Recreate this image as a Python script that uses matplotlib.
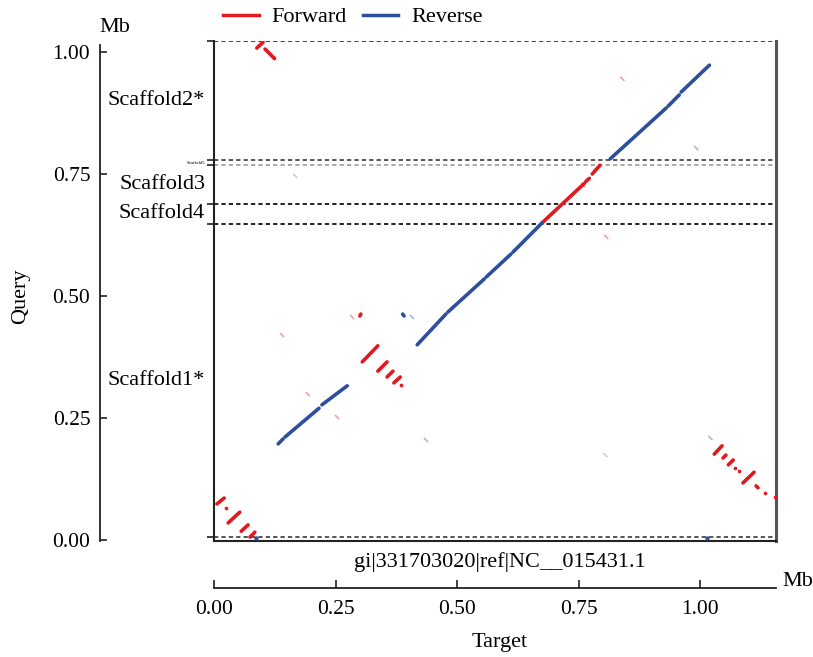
import matplotlib
matplotlib.use('Agg')
import matplotlib.pyplot as plt
import matplotlib.transforms as mtransforms
from matplotlib.lines import Line2D

plt.rcParams['font.family'] = ['Liberation Serif', 'DejaVu Serif']

RED = '#e2191f'
BLUE = '#2c4f9e'

# ---------------- data ----------------
target_name = 'gi|331703020|ref|NC__015431.1'
x_ticks = [0.0, 0.25, 0.5, 0.75, 1.0]
x_ticklabels = ['0.00', '0.25', '0.50', '0.75', '1.00']
y_ticks = [0.0, 0.25, 0.5, 0.75, 1.0]
y_ticklabels = ['0.00', '0.25', '0.50', '0.75', '1.00']
x_limits = (0.0, 1.156)
y_limits = (-0.002, 1.0225)

scaffold_bounds = [0.006, 0.648, 0.689, 0.768, 0.779, 1.0225]
scaffold_names = ['Scaffold1*', 'Scaffold4', 'Scaffold3', 'Scaffold5', 'Scaffold2*']

# forward (red) alignment segments: x0, y0, x1, y1 (Mb)
fwd_x0 = [0.088, 0.105, 0.006, 0.029, 0.056, 0.074, 0.305, 0.337, 0.356, 0.370, 0.300,
          0.675, 0.765, 0.778, 1.029, 1.047, 1.058, 1.088, 1.115]
fwd_y0 = [1.008, 1.006, 0.074, 0.035, 0.018, 0.006, 0.365, 0.346, 0.334, 0.322, 0.459,
          0.650, 0.735, 0.750, 0.176, 0.168, 0.154, 0.117, 0.111]
fwd_x1 = [0.101, 0.123, 0.021, 0.053, 0.070, 0.084, 0.337, 0.356, 0.368, 0.383, 0.302,
          0.762, 0.772, 0.794, 1.045, 1.053, 1.068, 1.111, 1.119]
fwd_y1 = [1.020, 0.988, 0.086, 0.057, 0.031, 0.016, 0.398, 0.365, 0.346, 0.334, 0.463,
          0.731, 0.741, 0.768, 0.193, 0.174, 0.164, 0.139, 0.107]
# forward dots
fwd_dot_x = [0.123, 0.024, 0.385, 1.072, 1.080, 1.134, 1.154]
fwd_dot_y = [0.988, 0.065, 0.318, 0.148, 0.141, 0.096, 0.088]

# reverse (blue) alignment segments
rev_x0 = [0.132, 0.146, 0.222, 0.418, 0.481, 0.560, 0.615, 0.815, 0.934, 0.961, 0.388]
rev_y0 = [0.197, 0.211, 0.277, 0.400, 0.467, 0.539, 0.590, 0.781, 0.889, 0.918, 0.463]
rev_x1 = [0.142, 0.216, 0.274, 0.477, 0.556, 0.611, 0.675, 0.930, 0.957, 1.019, 0.391]
rev_y1 = [0.207, 0.270, 0.316, 0.463, 0.535, 0.586, 0.650, 0.885, 0.912, 0.973, 0.459]
rev_dot_x = [0.086, 1.014]
rev_dot_y = [0.004, 0.004]

# faint (low identity) hits
faint_x = [0.140, 0.193, 0.253, 0.284, 0.407, 0.436, 0.807, 0.759, 0.840, 0.992, 0.167, 0.805, 1.021]
faint_y = [0.420, 0.299, 0.252, 0.457, 0.457, 0.205, 0.621, 0.727, 0.945, 0.803, 0.746, 0.174, 0.209]
faint_kind = ['r', 'r', 'r', 'r', 'b', 'b', 'r', 'r', 'r', 'b', 'g', 'g', 'b']

# ---------------- figure ----------------
fig = plt.figure(figsize=(8.13, 6.57), dpi=100)
W, H = 813, 657
ax = fig.add_axes([214 / W, 1 - 541 / H, 562 / W, 500 / H])
ax.set_xlim(*x_limits)
ax.set_ylim(*y_limits)

# scaffold boundary lines
bound_colors = ['#555555', '#222222', '#222222', '#aaaaaa', '#555555', '#444444']
for b, c in zip(scaffold_bounds, bound_colors):
    ax.axhline(b, color=c, lw=1.4, linestyle=(0, (2.2, 1.6)), zorder=1)

# alignments
for x0, y0, x1, y1 in zip(fwd_x0, fwd_y0, fwd_x1, fwd_y1):
    ax.plot([x0, x1], [y0, y1], color=RED, lw=2.6, solid_capstyle='round', zorder=3)
ax.scatter(fwd_dot_x, fwd_dot_y, s=7, color=RED, zorder=3, linewidths=0)
for x0, y0, x1, y1 in zip(rev_x0, rev_y0, rev_x1, rev_y1):
    ax.plot([x0, x1], [y0, y1], color=BLUE, lw=2.6, solid_capstyle='round', zorder=3)
ax.scatter(rev_dot_x, rev_dot_y, s=10, color=BLUE, zorder=3, linewidths=0)
kind_col = {'r': '#f4a0a3', 'b': '#a9b6dc', 'g': '#d0d0d0'}
for fx, fy, k in zip(faint_x, faint_y, faint_kind):
    ax.plot([fx - 0.003, fx + 0.003], [fy + 0.003, fy - 0.003], color=kind_col[k], lw=1.2, zorder=2)

# frame
for side in ['left', 'bottom']:
    ax.spines[side].set_color('#222222')
    ax.spines[side].set_linewidth(1.5)
ax.spines['right'].set_color('#555555')
ax.spines['right'].set_linewidth(2.2)
ax.spines['top'].set_visible(False)

ax.set_xticks([])
ax.set_yticks(scaffold_bounds)
ax.set_yticklabels([])
ax.tick_params(axis='y', direction='out', length=5, width=1.3, color='#333333')

# scaffold labels
trans = mtransforms.blended_transform_factory(ax.transAxes, ax.transData)
for i, name in enumerate(scaffold_names):
    mid = (scaffold_bounds[i] + scaffold_bounds[i + 1]) / 2
    fs = 3.5 if name == 'Scaffold5' else 16
    ax.text(-0.016, mid, name, ha='right', va='center', fontsize=fs, transform=trans)

# outer query axis
sy = ax.secondary_yaxis((100 - 214) / 562)
sy.set_yticks(y_ticks)
sy.set_yticklabels(y_ticklabels)
sy.tick_params(direction='in', length=5, width=1.2, pad=7, labelsize=15.5, color='#222222')
sy.spines['left'].set_linewidth(1.3)
sy.spines['left'].set_color('#222222')
sy.spines['left'].set_bounds(-0.002, 1.015)

# outer target axis
sx = ax.secondary_xaxis((541 - 588) / 500)
sx.set_xticks(x_ticks)
sx.set_xticklabels(x_ticklabels)
sx.tick_params(direction='in', length=6, width=1.2, pad=9, labelsize=15.5, color='#222222')
sx.spines['bottom'].set_linewidth(1.3)
sx.spines['bottom'].set_color('#222222')

# texts
fig.text(500 / W, 1 - 562 / H, target_name, ha='center', va='center', fontsize=16)
fig.text(500 / W, 1 - 642 / H, 'Target', ha='center', va='center', fontsize=16)
fig.text(21 / W, 1 - 296 / H, 'Query', ha='center', va='center', fontsize=16, rotation=90)
fig.text(115 / W, 1 - 27 / H, 'Mb', ha='center', va='center', fontsize=16)
fig.text(798 / W, 1 - 582 / H, 'Mb', ha='center', va='center', fontsize=16)

handles = [Line2D([], [], color=RED, lw=2.5), Line2D([], [], color=BLUE, lw=2.5)]
fig.legend(handles, ['Forward', 'Reverse'], loc='center', bbox_to_anchor=(353 / W, 1 - 17 / H),
           ncol=2, frameon=False, fontsize=16, handlelength=1.6, handletextpad=0.6,
           columnspacing=0.7, borderaxespad=0, borderpad=0)

fig.savefig('out.png', dpi=100)
